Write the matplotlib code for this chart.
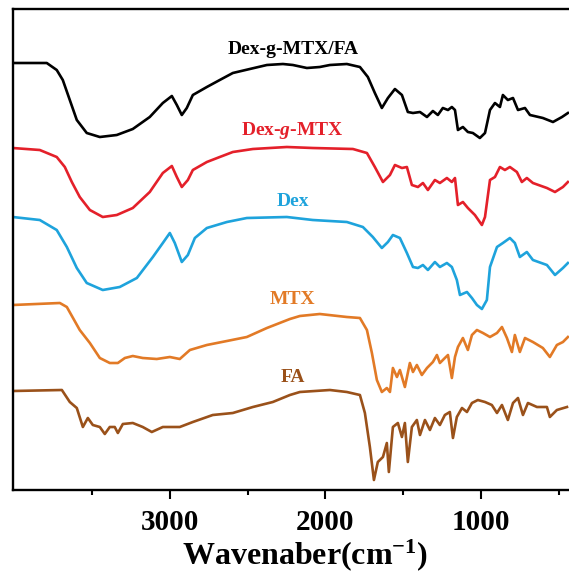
import matplotlib
matplotlib.use("Agg")
import matplotlib.pyplot as plt
from matplotlib.ticker import FixedLocator

plt.rcParams['font.family'] = ['Liberation Serif', 'DejaVu Serif']
plt.rcParams['font.weight'] = 'bold'
plt.rcParams['mathtext.fontset'] = 'custom'
plt.rcParams['mathtext.rm'] = 'Liberation Serif:bold'
plt.rcParams['mathtext.bf'] = 'Liberation Serif:bold'
plt.rcParams['mathtext.it'] = 'Liberation Serif:bold:italic'
plt.rcParams['mathtext.bfit'] = 'Liberation Serif:bold:italic'

# FTIR spectra (wavenumber, offset transmittance a.u.)
fa_mtx_wn = [4010, 3791, 3727, 3688, 3643, 3598, 3534, 3450, 3341, 3238, 3129, 3045,
             2987, 2955, 2923, 2891, 2852, 2762, 2679, 2595, 2486, 2376, 2273, 2209,
             2119, 2036, 1971, 1862, 1778, 1727, 1682, 1637, 1598, 1553, 1508, 1470,
             1437, 1392, 1347, 1309, 1277, 1245, 1212, 1187, 1167, 1148, 1116, 1084,
             1052, 1007, 974, 942, 910, 878, 859, 827, 794, 762, 717, 685, 602, 537,
             479, 441]
fa_mtx_t = [427, 427, 420, 410, 390, 370, 357, 353, 355, 361, 373, 387,
            394, 385, 375, 382, 395, 403, 410, 417, 421, 425, 426, 425,
            422, 423, 425, 426, 423, 413, 397, 382, 392, 401, 395, 378,
            377, 378, 373, 379, 375, 382, 380, 383, 380, 360, 363, 358,
            357, 352, 357, 380, 387, 383, 395, 390, 392, 380, 382, 375, 372, 368,
            373, 377]

dex_mtx_wn = [4010, 3836, 3727, 3675, 3630, 3579, 3514, 3431, 3341, 3238, 3129, 3045,
              2987, 2955, 2923, 2884, 2852, 2762, 2679, 2595, 2466, 2248, 2081, 1823,
              1733, 1682, 1630, 1585, 1553, 1508, 1476, 1444, 1405, 1373, 1341, 1296,
              1264, 1219, 1187, 1167, 1148, 1116, 1084, 1039, 994, 974, 942, 910, 878,
              846, 814, 769, 737, 705, 666, 576, 524, 473, 441]
dex_mtx_t = [342, 340, 333, 323, 308, 293, 280, 273, 275, 282, 298, 317,
             324, 313, 303, 310, 320, 328, 333, 338, 341, 343, 342, 341,
             337, 323, 308, 315, 325, 322, 323, 305, 303, 307, 300, 310,
             307, 312, 308, 312, 285, 288, 282, 275, 265, 273, 310, 313, 323,
             320, 323, 318, 308, 312, 307, 302, 298, 303, 308]

dex_wn = [4010, 3836, 3727, 3662, 3598, 3534, 3431, 3322, 3212, 3109, 3045, 3000,
          2968, 2923, 2884, 2839, 2762, 2633, 2505, 2248, 2081, 1862, 1759, 1695,
          1637, 1598, 1566, 1521, 1476, 1437, 1405, 1373, 1341, 1296, 1264, 1219,
          1187, 1155, 1135, 1090, 1058, 1026, 994, 962, 942, 897, 859, 814, 782,
          750, 705, 666, 576, 524, 473, 441]
dex_t = [273, 270, 260, 243, 222, 207, 200, 203, 212, 233, 247, 257,
         247, 228, 235, 252, 262, 268, 272, 273, 270, 268, 263, 253,
         242, 248, 255, 252, 237, 223, 222, 225, 220, 228, 223, 227,
         223, 210, 195, 198, 192, 185, 181, 190, 223, 243, 247, 252, 247,
         233, 238, 230, 225, 215, 222, 227]

mtx_wn = [4010, 3707, 3662, 3579, 3514, 3450, 3386, 3334, 3289, 3238, 3174, 3084,
          3000, 2936, 2871, 2762, 2633, 2505, 2376, 2228, 2164, 2036, 1862, 1778,
          1733, 1701, 1669, 1637, 1605, 1585, 1566, 1540, 1521, 1489, 1457, 1437,
          1412, 1380, 1347, 1309, 1283, 1264, 1232, 1212, 1187, 1167, 1148, 1116,
          1084, 1058, 1026, 987, 942, 897, 865, 833, 801, 782, 750, 717, 666, 602,
          557, 512, 473, 441]
mtx_t = [185, 187, 183, 160, 147, 132, 127, 127, 132, 134, 132, 131,
         133, 131, 140, 145, 149, 153, 162, 171, 174, 176, 173, 172,
         160, 137, 110, 98, 102, 98, 122, 113, 120, 103, 127, 118,
         125, 115, 122, 128, 135, 127, 132, 135, 112, 133, 143, 152,
         140, 155, 160, 157, 153, 157, 163, 152, 138, 155, 138, 152, 148, 142,
         133, 145, 148, 153]

fa_wn = [4010, 3694, 3643, 3598, 3559, 3527, 3495, 3450, 3418, 3386, 3354, 3334,
         3302, 3238, 3174, 3116, 3045, 2936, 2852, 2724, 2595, 2466, 2338, 2228,
         2164, 1971, 1862, 1778, 1746, 1714, 1688, 1663, 1630, 1605, 1592, 1566,
         1534, 1508, 1489, 1470, 1444, 1412, 1392, 1360, 1328, 1296, 1264, 1232,
         1200, 1180, 1155, 1122, 1090, 1058, 1020, 974, 930, 897, 865, 827, 794,
         762, 730, 698, 640, 576, 557, 512, 447]
fa_t = [99, 100, 88, 82, 63, 72, 65, 63, 56, 63, 63, 57,
        66, 67, 63, 58, 63, 63, 68, 75, 77, 83, 88, 95,
        98, 100, 98, 95, 77, 43, 10, 28, 33, 47, 18, 63,
        67, 53, 67, 28, 63, 70, 55, 70, 60, 72, 65, 75,
        78, 52, 73, 82, 78, 87, 90, 88, 85, 77, 85, 70, 87,
        92, 75, 87, 83, 83, 73, 80, 83]

names = ['Dex-g-MTX/FA', r'Dex-$\mathit{g}$-MTX', 'Dex', 'MTX', 'FA']
colors = ['#000000', '#e4202a', '#1ea3dc', '#e27a26', '#9a511a']
label_y = [440, 359, 288, 190, 112]
label_x = 2210

major_ticks = [3000, 2000, 1000]
minor_ticks = [3500, 2500, 1500, 500]

fig = plt.figure(figsize=(5.69, 5.79), dpi=100)
ax = fig.add_axes([12.7 / 569, 89 / 579, 1 - 12.7 / 569, 480.7 / 579])

spectra = [(fa_mtx_wn, fa_mtx_t), (dex_mtx_wn, dex_mtx_t), (dex_wn, dex_t),
           (mtx_wn, mtx_t), (fa_wn, fa_t)]
for (wn, t), name, c, ly in zip(spectra, names, colors, label_y):
    ax.plot(wn, t, color=c, lw=1.9, solid_joinstyle='round')
    ax.text(label_x, ly, name, color=c, fontsize=14, fontweight='bold',
            ha='center', va='center')

ax.set_xlim(4010, 434)
ax.set_ylim(0, 480.7)
ax.xaxis.set_major_locator(FixedLocator(major_ticks))
ax.xaxis.set_minor_locator(FixedLocator(minor_ticks))
ax.set_yticks([])
ax.spines['right'].set_visible(False)
for s in ['left', 'top', 'bottom']:
    ax.spines[s].set_linewidth(1.7)
ax.tick_params(axis='x', which='major', direction='out', length=6.5, width=1.5,
               labelsize=21, pad=7)
ax.tick_params(axis='x', which='minor', direction='out', length=3.6, width=1.5)
for lab in ax.get_xticklabels():
    lab.set_fontweight('bold')

fig.text(305 / 569, 1 - 555 / 579, r'Wavenaber(cm$^{\mathbf{-1}}$)',
         fontsize=23, fontweight='bold', ha='center', va='center')

fig.savefig('out.png', dpi=100)
